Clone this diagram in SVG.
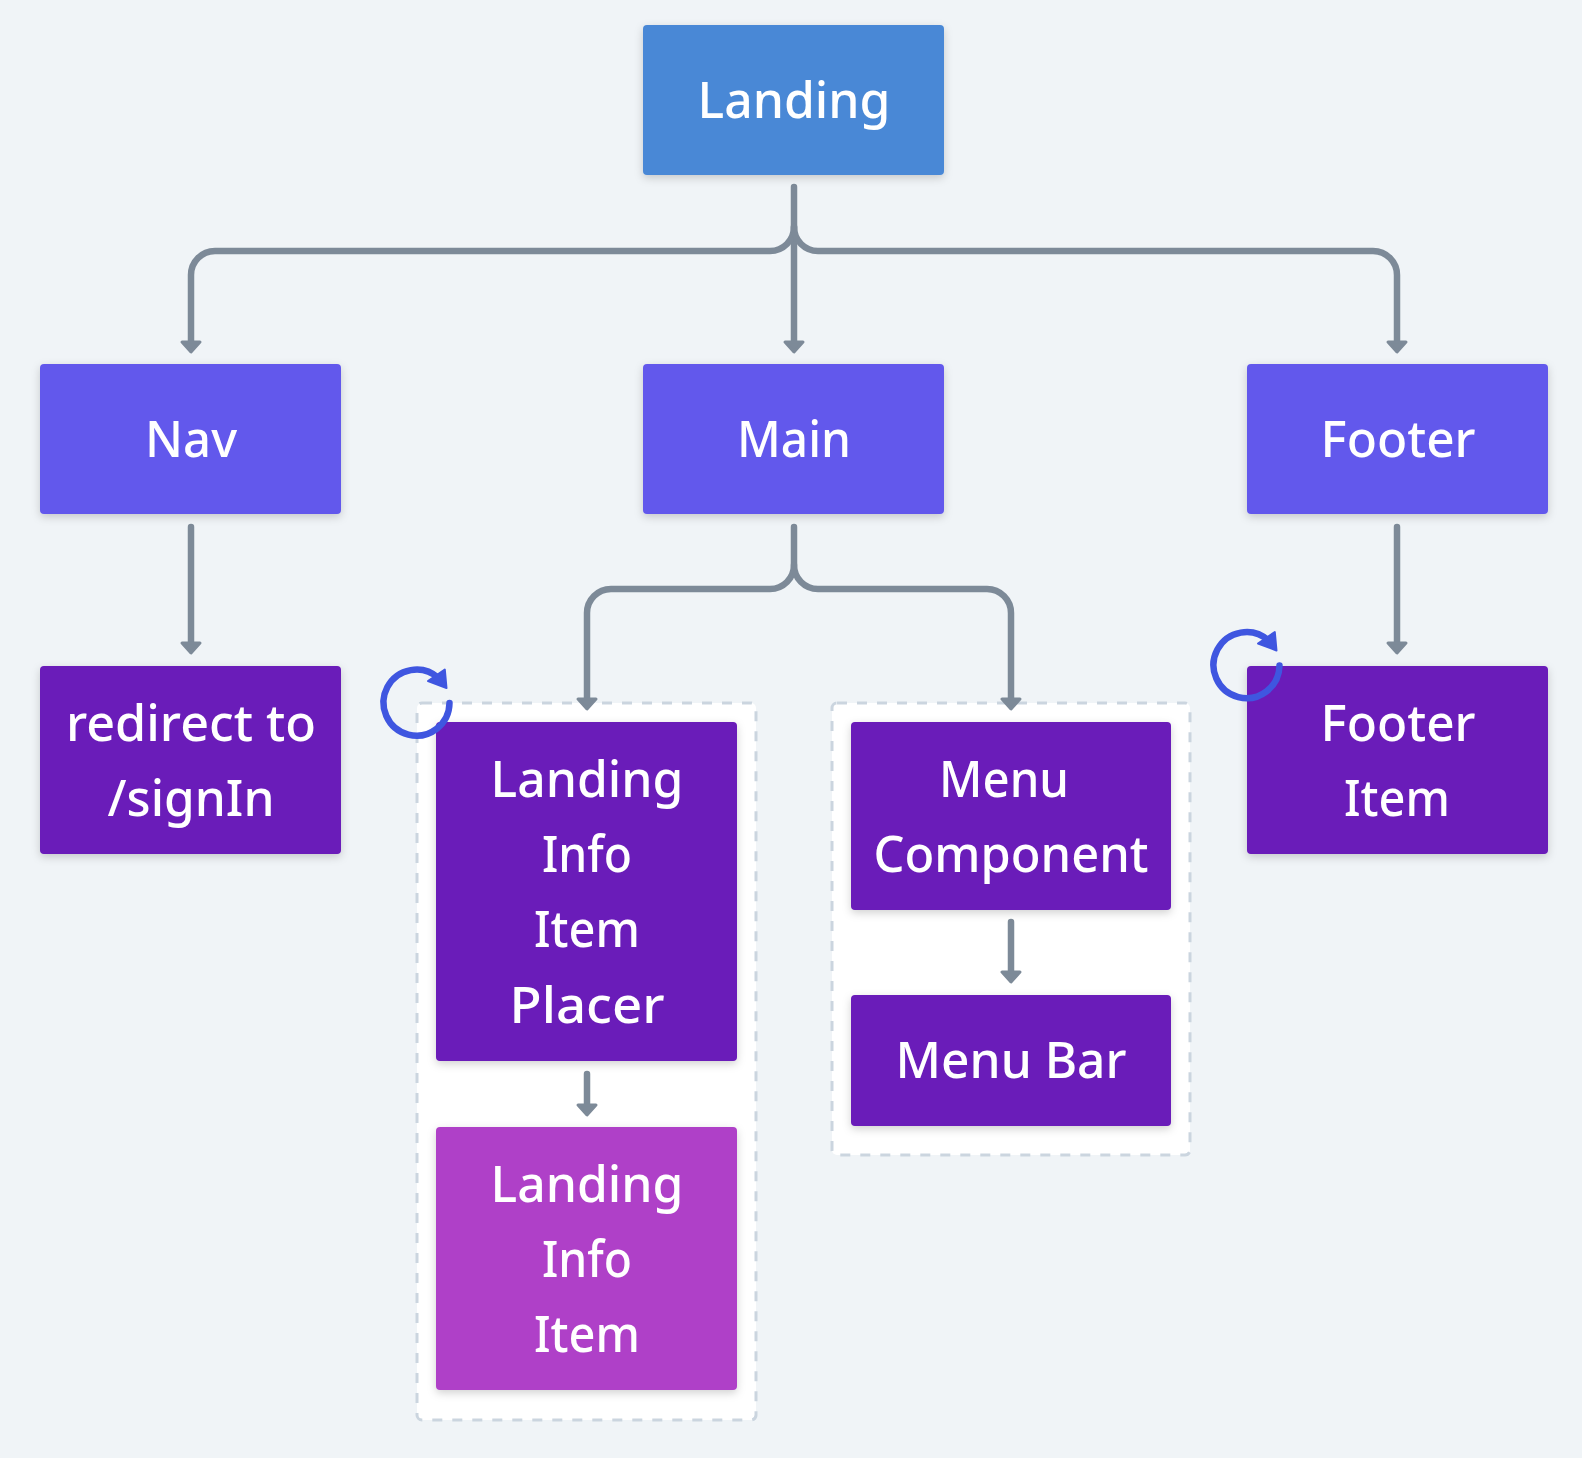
<svg xmlns="http://www.w3.org/2000/svg" width="1582" height="1458" viewBox="0 0 1582 1458">
<style>
.n{filter:url(#s)}
.t{font-family:"Noto Sans","Liberation Sans",sans-serif;font-size:50px;font-weight:500;fill:#fff;text-anchor:middle}
.c{fill:none;stroke:#7d8a98;stroke-width:6.5;stroke-linecap:round;stroke-linejoin:round}
.a{fill:#7d8a98;stroke:#7d8a98;stroke-width:3;stroke-linejoin:round}
.g{fill:#fff;stroke:#cbd5df;stroke-width:3;stroke-dasharray:10 10}
.l{fill:none;stroke:#3f56e0;stroke-width:6.5;stroke-linecap:round}
.h{fill:#3f56e0;stroke:#3f56e0;stroke-width:2;stroke-linejoin:round}
</style>
<defs>
<filter id="s" x="-10%" y="-10%" width="120%" height="125%"><feDropShadow dx="0" dy="3" stdDeviation="4" flood-color="#000" flood-opacity="0.18"/></filter>
<path id="ah" class="a" d="M-9 -11H9L0 -1Z"/>
<g id="loop"><path class="l" d="M33 0A33 33 0 1 1 22 -25"/><path class="h" d="M28.300 -33.500L30 -15L11.500 -22Z"/></g>
</defs>
<rect width="1582" height="1458" fill="#f0f4f7"/>
<g id="groups">
<rect class="g" x="417" y="703" width="339" height="717" rx="5"/>
<rect class="g" x="832" y="703" width="358" height="452" rx="5"/>
</g>
<g id="connectors">
<path class="c" d="M794 187V345"/>
<path class="c" d="M794 227A24 24 0 0 1 770 251H215A24 24 0 0 0 191 275V345"/>
<path class="c" d="M794 227A24 24 0 0 0 818 251H1373A24 24 0 0 1 1397 275V345"/>
<path class="c" d="M191 527V647"/>
<path class="c" d="M794 527V565A24 24 0 0 1 770 589H611A24 24 0 0 0 587 613V703"/>
<path class="c" d="M794 565A24 24 0 0 0 818 589H987A24 24 0 0 1 1011 613V703"/>
<path class="c" d="M1397 527V647"/>
<path class="c" d="M587 1074V1106"/>
<path class="c" d="M1011 922V973"/>
<use href="#ah" x="191" y="353"/><use href="#ah" x="794" y="353"/><use href="#ah" x="1397" y="353"/>
<use href="#ah" x="191" y="654"/><use href="#ah" x="1397" y="654"/>
<use href="#ah" x="587" y="710"/><use href="#ah" x="1011" y="710"/>
<use href="#ah" x="587" y="1116"/><use href="#ah" x="1011" y="983"/>
</g>
<g id="landing"><rect class="n" x="643" y="25" width="301" height="150" rx="4" fill="#4a88d6"/><text class="t" x="794" y="118" textLength="193" lengthAdjust="spacingAndGlyphs">Landing</text></g>
<g id="nav"><rect class="n" x="40" y="364" width="301" height="150" rx="4" fill="#6259ec"/><text class="t" x="191" y="457" textLength="92" lengthAdjust="spacingAndGlyphs">Nav</text></g>
<g id="main"><rect class="n" x="643" y="364" width="301" height="150" rx="4" fill="#6259ec"/><text class="t" x="794" y="457" textLength="114" lengthAdjust="spacingAndGlyphs">Main</text></g>
<g id="footer"><rect class="n" x="1247" y="364" width="301" height="150" rx="4" fill="#6259ec"/><text class="t" x="1398" y="457" textLength="155" lengthAdjust="spacingAndGlyphs">Footer</text></g>
<g id="redirect"><rect class="n" x="40" y="666" width="301" height="188" rx="4" fill="#6a1ab9"/><text class="t" x="191" y="741" textLength="250" lengthAdjust="spacingAndGlyphs">redirect to</text><text class="t" x="191" y="816" textLength="167" lengthAdjust="spacingAndGlyphs">/signIn</text></g>
<g id="footer-item"><rect class="n" x="1247" y="666" width="301" height="188" rx="4" fill="#6a1ab9"/><text class="t" x="1398" y="741" textLength="155" lengthAdjust="spacingAndGlyphs">Footer</text><text class="t" x="1397" y="816" textLength="106" lengthAdjust="spacingAndGlyphs">Item</text></g>
<g id="placer"><rect class="n" x="436" y="722" width="301" height="339" rx="4" fill="#6a1ab9"/><text class="t" x="587" y="797" textLength="193" lengthAdjust="spacingAndGlyphs">Landing</text><text class="t" x="587" y="872" textLength="90" lengthAdjust="spacingAndGlyphs">Info</text><text class="t" x="587" y="947" textLength="106" lengthAdjust="spacingAndGlyphs">Item</text><text class="t" x="587" y="1023" textLength="155" lengthAdjust="spacingAndGlyphs">Placer</text></g>
<g id="info-item"><rect class="n" x="436" y="1127" width="301" height="263" rx="4" fill="#af3fc8"/><text class="t" x="587" y="1202" textLength="193" lengthAdjust="spacingAndGlyphs">Landing</text><text class="t" x="587" y="1277" textLength="90" lengthAdjust="spacingAndGlyphs">Info</text><text class="t" x="587" y="1352" textLength="106" lengthAdjust="spacingAndGlyphs">Item</text></g>
<g id="menu-component"><rect class="n" x="851" y="722" width="320" height="188" rx="4" fill="#6a1ab9"/><text class="t" x="1004" y="797" textLength="130" lengthAdjust="spacingAndGlyphs">Menu</text><text class="t" x="1011" y="872" textLength="275" lengthAdjust="spacingAndGlyphs">Component</text></g>
<g id="menu-bar"><rect class="n" x="851" y="995" width="320" height="131" rx="4" fill="#6a1ab9"/><text class="t" x="1011" y="1078" textLength="231" lengthAdjust="spacingAndGlyphs">Menu Bar</text></g>
<g id="icons"><use href="#loop" x="416.500" y="703"/><use href="#loop" x="1246.500" y="665.500"/></g>
</svg>
